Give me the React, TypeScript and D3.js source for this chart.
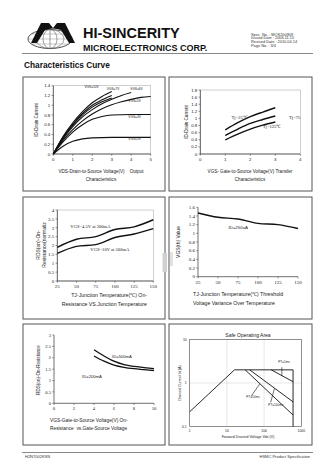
import React from 'react';
import * as d3 from 'd3';

type Pt = [number, number];

// ---------- Chart 1: Output characteristics ----------
const outTicksX = [0, 1, 2, 3, 4, 5];
const outTicksY = [0, 0.2, 0.4, 0.6, 0.8, 1, 1.2, 1.4];
const outVgs10: Pt[] = [[0, 0], [0.5, 0.36], [1, 0.64], [1.5, 0.87], [2, 1.05], [2.5, 1.18], [3, 1.28]];
const outVgs8: Pt[] = [[0, 0], [0.5, 0.34], [1, 0.61], [1.5, 0.83], [2, 1.0], [2.5, 1.11], [3, 1.2]];
const outVgs7: Pt[] = [[0, 0], [0.5, 0.33], [1, 0.59], [1.5, 0.8], [2, 0.96], [2.5, 1.07], [3, 1.15]];
const outVgs6: Pt[] = [[0, 0], [0.5, 0.31], [1, 0.56], [1.5, 0.76], [2, 0.91], [2.5, 1.03], [3, 1.12], [3.5, 1.2], [4, 1.26]];
const outVgs5: Pt[] = [[0, 0], [0.5, 0.28], [1, 0.5], [1.5, 0.68], [2, 0.82], [2.5, 0.93], [3, 1.01], [3.5, 1.07], [4, 1.12], [4.5, 1.16], [5, 1.18]];
const outVgs4: Pt[] = [[0, 0], [0.5, 0.25], [1, 0.45], [1.5, 0.6], [2, 0.71], [2.5, 0.77], [3, 0.8], [4, 0.81], [5, 0.81]];
const outVgs3: Pt[] = [[0, 0], [0.5, 0.16], [1, 0.26], [1.5, 0.31], [2, 0.33], [3, 0.34], [5, 0.34]];
const outLabels: { t: string; x: number; y: number }[] = [
  { t: 'VGS=10V', x: 1.6, y: 1.35 },
  { t: 'VGS=7V', x: 2.75, y: 1.31 },
  { t: 'VGS=6V', x: 3.95, y: 1.31 },
  { t: 'VGS=5V', x: 3.85, y: 1.06 },
  { t: 'VGS=4V', x: 3.85, y: 0.74 },
  { t: 'VGS=3V', x: 3.85, y: 0.28 },
];

// ---------- Chart 2: Transfer characteristics ----------
const trTicksX = [0, 1, 2, 3, 4];
const trTicksY = [0, 0.2, 0.4, 0.6, 0.8, 1, 1.2, 1.4, 1.6, 1.8];
const trTj25: Pt[] = [[1, 0.68], [1.5, 0.88], [2, 1.05], [2.5, 1.18], [3, 1.3]];
const trTj75: Pt[] = [[1, 0.52], [1.5, 0.7], [2, 0.86], [2.5, 0.97], [3, 1.07]];
const trTj125: Pt[] = [[1, 0.4], [1.5, 0.56], [2, 0.7], [2.5, 0.81], [3, 0.9]];
const trLabels = [
  { t: 'Tj=25℃', x: 1.25, y: 0.98 },
  { t: 'Tj=75', x: 3.55, y: 0.98 },
  { t: 'Tj=125℃', x: 2.5, y: 0.72 },
];

// ---------- Chart 3: RDS(on) vs Tj ----------
const rtTicksX = [25, 50, 75, 100, 125, 150];
const rtTicksY = [0, 0.5, 1, 1.5, 2, 2.5, 3, 3.5, 4];
const rtVgs45: Pt[] = [[25, 1.9], [50, 2.35], [75, 2.5], [100, 2.9], [125, 3.05], [150, 3.45]];
const rtVgs10: Pt[] = [[25, 1.55], [50, 1.95], [75, 2.05], [100, 2.45], [125, 2.65], [150, 2.95]];
const rtLabels = [
  { t: 'VGS=4.5V at 200mA', x: 42, y: 3.0 },
  { t: 'VGS=10V at 500mA', x: 68, y: 1.7 },
];

// ---------- Chart 4: VGS(th) vs Tj ----------
const vtTicksX = [25, 50, 75, 100, 125, 150];
const vtTicksY = [0, 0.2, 0.4, 0.6, 0.8, 1, 1.2, 1.4, 1.6];
const vtId250: Pt[] = [[25, 1.47], [50, 1.37], [75, 1.33], [100, 1.23], [125, 1.2], [150, 1.11]];
const vtLabels = [{ t: 'ID=250uA', x: 63, y: 1.1 }];

// ---------- Chart 5: RDS(on) vs VGS ----------
const rgTicksX = [0, 2, 4, 6, 8, 10];
const rgTicksY = [0, 0.5, 1, 1.5, 2, 2.5, 3];
const rgId500: Pt[] = [[4, 2.35], [5, 2.08], [6, 1.85], [7, 1.7], [8, 1.62], [9, 1.57], [10, 1.52]];
const rgId200: Pt[] = [[4, 2.08], [5, 1.85], [6, 1.68], [7, 1.58], [8, 1.52], [9, 1.48], [10, 1.44]];
const rgLabels = [
  { t: 'ID=500mA', x: 5.8, y: 2.0 },
  { t: 'ID=200mA', x: 2.8, y: 1.12 },
];

// ---------- Chart 6: Safe operating area ----------
const soaTicksX = [1, 10, 100, 1000];
const soaTicksY = [0.1, 1, 10];
const soaLimit: Pt[] = [[1, 0.22], [16, 2], [600, 2], [600, 0.1]];
const soa1ms: Pt[] = [[156, 2], [600, 1.07]];
const soa10ms: Pt[] = [[31, 2], [600, 0.185]];
const soa100ms: Pt[] = [[41, 2], [600, 0.37]];
const soaLabels = [
  { t: 'PT=1ms', lx: 240, ly: 2.85, px: 300, py: 2.3, tx: 300, ty: 1.45 },
  { t: 'PT=10ms', lx: 33, ly: 0.45, px: 45, py: 0.5, tx: 76, ty: 0.95 },
  { t: 'PT=100ms', lx: 130, ly: 0.3, px: 150, py: 0.36, tx: 190, ty: 0.75 },
];

const SANS = "'Liberation Sans', Arial, sans-serif";
const SERIF = "'Liberation Serif', 'Times New Roman', serif";

type Lin = d3.ScaleLinear<number, number> | d3.ScaleLogarithmic<number, number>;

function Frame({ x, y, xt, yt, font, fs, xfmt, yfmt, box = true }: {
  x: Lin; y: Lin; xt: number[]; yt: number[]; font: string; fs: number;
  xfmt?: (v: number) => string; yfmt?: (v: number) => string; box?: boolean;
}) {
  const [x0, x1] = x.range();
  const [y0, y1] = y.range();
  const fx = xfmt || ((v: number) => String(v));
  const fy = yfmt || ((v: number) => String(v));
  return (
    <g>
      {box && <rect x={x0} y={y1} width={x1 - x0} height={y0 - y1} fill="none" stroke="#b0b0b0" strokeWidth={0.6} />}
      <line x1={x0} x2={x0} y1={y0} y2={y1} stroke="#333" strokeWidth={0.7} />
      <line x1={x0} x2={x1} y1={y0} y2={y0} stroke="#333" strokeWidth={0.7} />
      {yt.map((v) => (
        <g key={'y' + v}>
          <line x1={x0 - 1.8} x2={x0} y1={y(v)} y2={y(v)} stroke="#333" strokeWidth={0.5} />
          <text x={x0 - 3} y={y(v) + fs * 0.35} textAnchor="end" fontFamily={font} fontSize={fs} fill="#222">{fy(v)}</text>
        </g>
      ))}
      {xt.map((v) => (
        <g key={'x' + v}>
          <line x1={x(v)} x2={x(v)} y1={y0} y2={y0 + 1.8} stroke="#333" strokeWidth={0.5} />
          <text x={x(v)} y={y0 + 3 + fs * 0.8} textAnchor="middle" fontFamily={font} fontSize={fs} fill="#222">{fx(v)}</text>
        </g>
      ))}
    </g>
  );
}

function Curve({ d, x, y, w = 1.3, smooth = true }: { d: Pt[]; x: Lin; y: Lin; w?: number; smooth?: boolean }) {
  const gen = d3.line<Pt>().x((p) => x(p[0])).y((p) => y(p[1]));
  if (smooth) gen.curve(d3.curveMonotoneX);
  return <path d={gen(d) || ''} fill="none" stroke="#111" strokeWidth={w} strokeLinejoin="round" />;
}

function Logo() {
  const meridians = [-14, -7, 0, 7, 14];
  const parallels = [-5, 0, 5];
  return (
    <g>
      <ellipse cx={50} cy={39} rx={22} ry={9.5} fill="none" stroke="#222" strokeWidth={0.8} />
      {meridians.map((m) => (
        <ellipse key={m} cx={50} cy={39} rx={Math.abs(m) + 0.01} ry={9.5} fill="none" stroke="#666" strokeWidth={0.35} />
      ))}
      {parallels.map((p) => {
        const k = Math.sqrt(1 - (p / 9.5) ** 2) * 22;
        return <line key={p} x1={50 - k} x2={50 + k} y1={39 + p} y2={39 + p} stroke="#666" strokeWidth={0.35} />;
      })}
      <path d="M31,43 L41,23 L49,23 L53,28 L57,23 L65,23 L75,43 L69,43 L61,30 Q53,27 45,30 L37,43 Z" fill="#111" />
    </g>
  );
}

export default function App() {
  // Chart 1
  const x1 = d3.scaleLinear().domain([0, 5]).range([53.3, 150.7]);
  const y1 = d3.scaleLinear().domain([0, 1.4]).range([154, 85.7]);
  // Chart 2
  const x2 = d3.scaleLinear().domain([0, 4]).range([200.3, 300.3]);
  const y2 = d3.scaleLinear().domain([0, 1.8]).range([154, 90]);
  // Chart 3
  const x3 = d3.scaleLinear().domain([25, 150]).range([57.3, 153.3]);
  const y3 = d3.scaleLinear().domain([0, 4]).range([281, 210]);
  // Chart 4
  const x4 = d3.scaleLinear().domain([25, 150]).range([198, 298]);
  const y4 = d3.scaleLinear().domain([0, 1.6]).range([276.7, 207.3]);
  // Chart 5
  const x5 = d3.scaleLinear().domain([0, 10]).range([54, 154]);
  const y5 = d3.scaleLinear().domain([0, 3]).range([403.3, 335]);
  // Chart 6
  const x6 = d3.scaleLog().domain([1, 1000]).range([189.7, 301.3]);
  const y6 = d3.scaleLog().domain([0.1, 10]).range([426.7, 339.3]);

  const f1 = (v: number) => (v === 0 || v === 1 ? String(v) : v.toFixed(1));
  const boxes = [
    [23, 77, 142, 114], [169, 77, 143, 114],
    [23, 197, 142, 122], [169, 197, 143, 122],
    [23, 324, 142, 121], [169, 324, 143, 121],
  ];

  return (
    <svg width={336} height={475} style={{ position: 'absolute', left: 0, top: 0, background: '#fff' }}>
      <rect width={336} height={475} fill="#fff" />
      <Logo />
      <text x={83} y={38} fontFamily={SANS} fontWeight="bold" fontSize={14.5} fill="#111">HI-SINCERITY</text>
      <text x={83} y={50.5} fontFamily={SANS} fontWeight="bold" fontSize={9} fill="#111">MICROELECTRONICS CORP.</text>
      {['Spec. No. : MOS200909', 'Issued Date : 2006.11.15', 'Revised Date : 2010.04.14', 'Page No. : 3/4'].map((t, i) => (
        <text key={t} x={251} y={35.5 + i * 3.7} fontFamily={SANS} fontSize={3.9} fill="#333">{t}</text>
      ))}
      <line x1={22} x2={313} y1={53.5} y2={53.5} stroke="#888" strokeWidth={1.1} />
      <text x={24} y={68.3} fontFamily={SANS} fontWeight="bold" fontSize={8.3} fill="#111">Characteristics Curve</text>

      {boxes.map((b, i) => (
        <rect key={i} x={b[0]} y={b[1]} width={b[2]} height={b[3]} fill="none" stroke="#555" strokeWidth={1} />
      ))}
      <rect x={162.5} y={253} width={4.5} height={19} fill="#d0d0d0" />
      <rect x={170} y={252} width={3} height={14} fill="#e2e2e2" />

      {/* Chart 1 */}
      <Frame x={x1} y={y1} xt={outTicksX} yt={outTicksY} font={SANS} fs={4.4} yfmt={f1} />
      {[outVgs10, outVgs8, outVgs7, outVgs6, outVgs5, outVgs4, outVgs3].map((d, i) => (
        <Curve key={i} d={d} x={x1} y={y1} w={1.1} />
      ))}
      {outLabels.map((l) => (
        <text key={l.t} x={x1(l.x)} y={y1(l.y)} fontFamily={SANS} fontSize={3.2} fill="#222">{l.t}</text>
      ))}
      <text transform={`translate(37.5,120) rotate(-90)`} textAnchor="middle" fontFamily={SANS} fontSize={4.6} fill="#222">ID-Drain Current</text>
      <text x={101} y={172.5} textAnchor="middle" fontFamily={SANS} fontSize={4.6} fill="#222" style={{ whiteSpace: 'pre' }}>VDS-Drain-to-Source Voltage(V)    Output</text>
      <text x={101} y={181} textAnchor="middle" fontFamily={SANS} fontSize={4.6} fill="#222">Characteristics</text>

      {/* Chart 2 */}
      <Frame x={x2} y={y2} xt={trTicksX} yt={trTicksY} font={SANS} fs={4.4} yfmt={f1} />
      {[trTj25, trTj75, trTj125].map((d, i) => (
        <Curve key={i} d={d} x={x2} y={y2} w={1.4} />
      ))}
      {trLabels.map((l) => (
        <text key={l.t} x={x2(l.x)} y={y2(l.y)} fontFamily={SERIF} fontSize={4.6} fill="#222">{l.t}</text>
      ))}
      <text transform={`translate(188,122) rotate(-90)`} textAnchor="middle" fontFamily={SANS} fontSize={4.6} fill="#222">ID-Drain Current</text>
      <text x={250} y={172.5} textAnchor="middle" fontFamily={SANS} fontSize={4.6} fill="#222">VGS- Gate-to-Source Voltage(V) Transfer</text>
      <text x={250} y={181} textAnchor="middle" fontFamily={SANS} fontSize={4.6} fill="#222">Characteristics</text>

      {/* Chart 3 */}
      <Frame x={x3} y={y3} xt={rtTicksX} yt={rtTicksY} font={SERIF} fs={5} />
      {[rtVgs45, rtVgs10].map((d, i) => (
        <Curve key={i} d={d} x={x3} y={y3} w={1.4} />
      ))}
      {rtLabels.map((l) => (
        <text key={l.t} x={x3(l.x)} y={y3(l.y)} fontFamily={SERIF} fontSize={4.6} fill="#222">{l.t}</text>
      ))}
      <text transform={`translate(40,245) rotate(-90)`} textAnchor="middle" fontFamily={SANS} fontSize={5} fill="#222">RDS(on)-On-</text>
      <text transform={`translate(45.5,245) rotate(-90)`} textAnchor="middle" fontFamily={SANS} fontSize={5} fill="#222">Resistance(normaliz</text>
      <text x={147} y={297} textAnchor="end" fontFamily={SANS} fontSize={5.2} fill="#222">TJ-Junction Temperature(℃) On-</text>
      <text x={147} y={306} textAnchor="end" fontFamily={SANS} fontSize={5.2} fill="#222">Resistance VS.Junction Temperature</text>

      {/* Chart 4 */}
      <Frame x={x4} y={y4} xt={vtTicksX} yt={vtTicksY} font={SERIF} fs={5} box={false} />
      <Curve d={vtId250} x={x4} y={y4} w={1.4} />
      {vtLabels.map((l) => (
        <text key={l.t} x={x4(l.x)} y={y4(l.y)} fontFamily={SANS} fontSize={4.4} fill="#222">{l.t}</text>
      ))}
      <text transform={`translate(180,242) rotate(-90)`} textAnchor="middle" fontFamily={SANS} fontSize={5} fill="#222">VGS(th) Value</text>
      <text x={193} y={296} fontFamily={SANS} fontSize={5.2} fill="#222">TJ-Junction Temperature(℃) Threshold</text>
      <text x={193} y={304.5} fontFamily={SANS} fontSize={5.2} fill="#222">Voltage Variance Over Temperature</text>

      {/* Chart 5 */}
      <Frame x={x5} y={y5} xt={rgTicksX} yt={rgTicksY} font={SERIF} fs={4.6} box={false} />
      {[rgId500, rgId200].map((d, i) => (
        <Curve key={i} d={d} x={x5} y={y5} w={1.3} />
      ))}
      {rgLabels.map((l) => (
        <text key={l.t} x={x5(l.x)} y={y5(l.y)} fontFamily={SANS} fontSize={4.2} fill="#222">{l.t}</text>
      ))}
      <text transform={`translate(40,370) rotate(-90)`} textAnchor="middle" fontFamily={SANS} fontSize={4.6} fill="#222">RDS(on)-On-Resistance</text>
      <text x={50} y={421.5} fontFamily={SANS} fontSize={4.8} fill="#222">VGS-Gate-to-Source Voltage(V) On-</text>
      <text x={50} y={430} fontFamily={SANS} fontSize={4.8} fill="#222" style={{ whiteSpace: 'pre' }}>Resistance  vs.Gate-Source Voltage</text>

      {/* Chart 6 */}
      <text x={248} y={336.5} textAnchor="middle" fontFamily={SANS} fontSize={5} fill="#222">Safe Operating Area</text>
      {[10, 100].map((v) => (
        <line key={v} x1={x6(v)} x2={x6(v)} y1={y6(0.1)} y2={y6(10)} stroke="#ccc" strokeWidth={0.5} />
      ))}
      <line x1={x6(1)} x2={x6(1000)} y1={y6(1)} y2={y6(1)} stroke="#ccc" strokeWidth={0.5} />
      <rect x={x6(1)} y={y6(10)} width={x6(1000) - x6(1)} height={y6(0.1) - y6(10)} fill="none" stroke="#444" strokeWidth={0.6} />
      {soaTicksX.map((v) => (
        <text key={v} x={x6(v)} y={y6(0.1) + 5.5} textAnchor="middle" fontFamily={SANS} fontSize={3.4} fill="#222">{v}</text>
      ))}
      {soaTicksY.map((v) => (
        <text key={v} x={x6(1) - 3} y={y6(v) + 1.2} textAnchor="end" fontFamily={SANS} fontSize={3.4} fill="#222">{v}</text>
      ))}
      {[soaLimit, soa1ms, soa10ms, soa100ms].map((d, i) => (
        <Curve key={i} d={d} x={x6} y={y6} w={0.9} smooth={false} />
      ))}
      {soaLabels.map((l) => (
        <g key={l.t}>
          <text x={x6(l.lx)} y={y6(l.ly)} fontFamily={SANS} fontSize={3.1} fill="#222">{l.t}</text>
          <line x1={x6(l.px)} y1={y6(l.py)} x2={x6(l.tx)} y2={y6(l.ty)} stroke="#111" strokeWidth={0.6} />
        </g>
      ))}
      <text x={248} y={438} textAnchor="middle" fontFamily={SANS} fontSize={3.6} fill="#222">Forward Drained Voltage Vds (V)</text>
      <text transform={`translate(180.5,383) rotate(-90)`} textAnchor="middle" fontFamily={SANS} fontSize={3.6} fill="#222">Drained Current Id (A)</text>

      {/* Footer */}
      <line x1={22} x2={313} y1={452.5} y2={452.5} stroke="#888" strokeWidth={1} />
      <text x={25} y={457.5} fontFamily={SANS} fontSize={4} fill="#333">H2N7002KSN</text>
      <text x={310} y={457.5} textAnchor="end" fontFamily={SANS} fontSize={4} fill="#333">HSMC Product Specification</text>
    </svg>
  );
}
